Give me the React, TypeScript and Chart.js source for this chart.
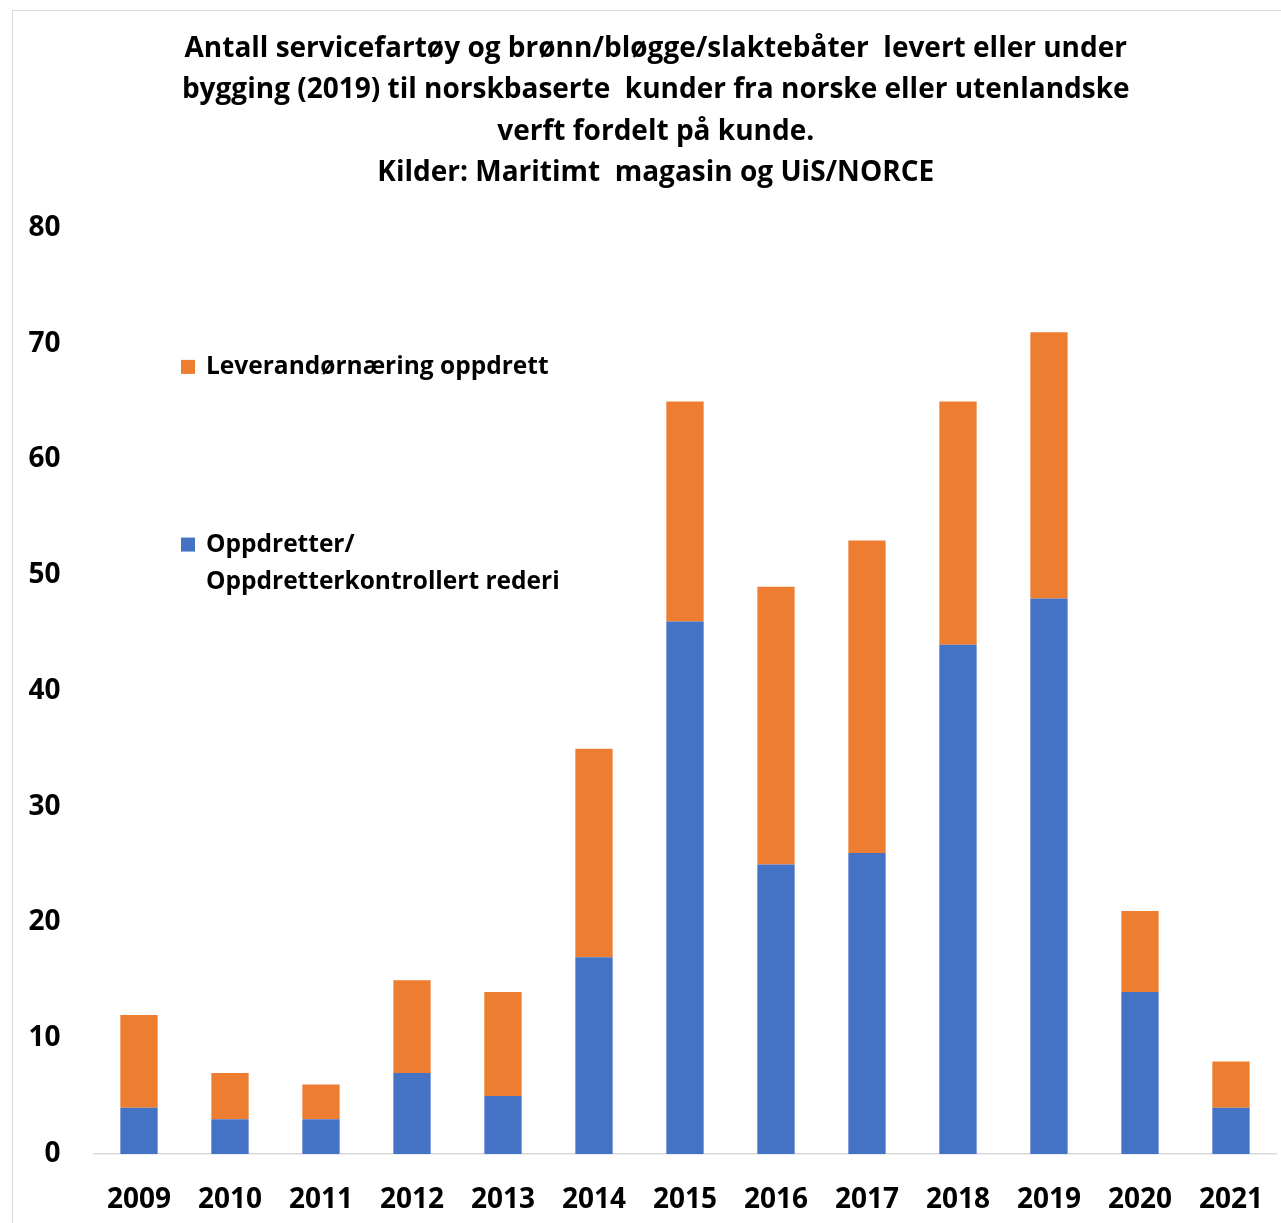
import React, { useEffect, useRef } from "react";
import { Chart, registerables } from "chart.js";

Chart.register(...registerables);

const categories = ["2009", "2010", "2011", "2012", "2013", "2014", "2015", "2016", "2017", "2018", "2019", "2020", "2021"];
const oppdretterValues = [4, 3, 3, 7, 5, 17, 46, 25, 26, 44, 48, 14, 4];
const leverandorValues = [8, 4, 3, 8, 9, 18, 19, 24, 27, 21, 23, 7, 4];
const seriesLabels = ["Oppdretter/ Oppdretterkontrollert rederi", "Leverandørnæring oppdrett"];
const legendLines = [["Oppdretter/", "Oppdretterkontrollert rederi"], ["Leverandørnæring oppdrett"]];
const titleLines = [
  "Antall servicefartøy og brønn/bløgge/slaktebåter  levert eller under",
  "bygging (2019) til norskbaserte  kunder fra norske eller utenlandske",
  "verft fordelt på kunde.",
  "Kilder: Maritimt  magasin og UiS/NORCE",
];
const yMax = 80;
const yStep = 10;

const FONT = "'Open Sans', Lato, sans-serif";

const customLegend = {
  id: "customLegend",
  afterDraw(chart: any) {
    const ctx = chart.ctx;
    const area = chart.chartArea;
    const yScale = chart.scales.y;
    const entries = [
      { ds: 1, anchor: 68.0 },
      { ds: 0, anchor: 52.65 },
    ];
    ctx.save();
    ctx.font = `bold 24.5px ${FONT}`;
    ctx.textBaseline = "middle";
    for (const e of entries) {
      const ds = chart.data.datasets[e.ds];
      const y = yScale.getPixelForValue(e.anchor);
      const x = area.left + 87.5;
      ctx.fillStyle = ds.backgroundColor;
      ctx.fillRect(x, y - 7, 14, 14);
      ctx.fillStyle = "#000";
      legendLines[e.ds].forEach((line: string, i: number) => {
        ctx.fillText(line, x + 25, y + i * 37);
      });
    }
    ctx.restore();
  },
};

export default function App() {
  const ref = useRef<HTMLCanvasElement>(null);
  useEffect(() => {
    if (!ref.current) return;
    const chart = new Chart(ref.current, {
      type: "bar",
      data: {
        labels: categories,
        datasets: [
          {
            label: seriesLabels[0],
            data: oppdretterValues,
            backgroundColor: "#4472C4",
            categoryPercentage: 1,
            barPercentage: 0.41,
          },
          {
            label: seriesLabels[1],
            data: leverandorValues,
            backgroundColor: "#ED7D31",
            categoryPercentage: 1,
            barPercentage: 0.41,
          },
        ],
      },
      options: {
        responsive: false,
        animation: false,
        layout: { padding: { left: 6.5, right: 0, top: 0, bottom: 0 } },
        plugins: {
          legend: { display: false },
          tooltip: { enabled: false },
          title: {
            display: true,
            text: titleLines,
            color: "#000",
            font: { family: FONT, size: 28, weight: "bold", lineHeight: 1.482 },
            padding: { top: 17, bottom: 34 },
          },
        },
        scales: {
          x: {
            stacked: true,
            grid: { display: false, drawTicks: false },
            border: { display: true, color: "#d9d9d9", width: 1.5 },
            ticks: { color: "#000", font: { family: FONT, size: 28, weight: "bold" }, padding: 29, maxRotation: 0 },
            afterFit: (s: any) => { s.height = 87; },
          },
          y: {
            stacked: true,
            min: 0,
            max: yMax,
            grid: { display: false, drawTicks: false },
            border: { display: false },
            ticks: { stepSize: yStep, color: "#000", font: { family: FONT, size: 28, weight: "bold" }, padding: 33 },
            afterFit: (s: any) => { s.width = 74; },
          },
        },
      },
      plugins: [customLegend],
    });
    return () => chart.destroy();
  }, []);
  return (
    <div
      style={{
        position: "absolute",
        left: 12,
        top: 10,
        width: 1290,
        borderLeft: "1px solid #d9d9d9",
        borderTop: "1px solid #d9d9d9",
        background: "#fff",
      }}
    >
      <canvas ref={ref} width={1279} height={1230} style={{ display: "block" }} />
    </div>
  );
}
